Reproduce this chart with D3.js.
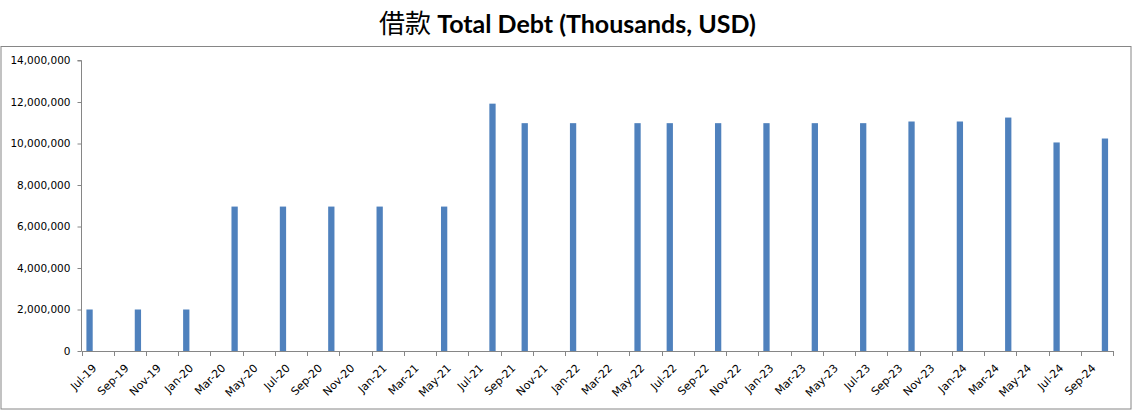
<!DOCTYPE html>
<html>
<head>
<meta charset="utf-8">
<script src="https://cdn.jsdelivr.net/npm/d3@7"></script>
<style>
  html, body { margin: 0; padding: 0; background: #fff; }
  svg { display: block; }
</style>
</head>
<body>
<svg id="chart" width="1135" height="417"></svg>
<script>
// ---- data ----
const barMonths = ["2019-07","2019-10","2020-01","2020-04","2020-07","2020-10","2021-01","2021-05","2021-08","2021-10","2022-01","2022-05","2022-07","2022-10","2023-01","2023-04","2023-07","2023-10","2024-01","2024-04","2024-07","2024-10"];
const debtValues = [2000000,2000000,2000000,6960000,6960000,6960000,6960000,6960000,11920000,10980000,10980000,10980000,10980000,10980000,10980000,10980000,10980000,11060000,11060000,11250000,10050000,10240000];
const xTickLabels = ["Jul-19","Sep-19","Nov-19","Jan-20","Mar-20","May-20","Jul-20","Sep-20","Nov-20","Jan-21","Mar-21","May-21","Jul-21","Sep-21","Nov-21","Jan-22","Mar-22","May-22","Jul-22","Sep-22","Nov-22","Jan-23","Mar-23","May-23","Jul-23","Sep-23","Nov-23","Jan-24","Mar-24","May-24","Jul-24","Sep-24"];
const yTickValues = [0,2000000,4000000,6000000,8000000,10000000,12000000,14000000];
const axisStart = "2019-07";
const axisEnd = "2024-11";
const titleCJK = "借款";
const titleLatin = "Total Debt (Thousands, USD)";

// ---- setup ----
const svg = d3.select("#chart");
const parse = d3.utcParse("%Y-%m");
const fmtKey = d3.utcFormat("%Y-%m");
const allMonths = d3.utcMonth.range(parse(axisStart), parse(axisEnd)).map(fmtKey);

const plotLeft = 81.5, plotRight = 1113, plotTop = 60.5, plotBottom = 351;

const x = d3.scaleBand().domain(allMonths).range([plotLeft, plotRight]).paddingInner(0.61).paddingOuter(0.305);
const xEdge = d3.scaleLinear().domain([0, allMonths.length]).range([plotLeft, plotRight]);
const y = d3.scaleLinear().domain([0, 14000000]).range([plotBottom, plotTop]);

// outer border
svg.append("rect").attr("x", 1).attr("y", 46.5).attr("width", 1130).attr("height", 362.5)
  .attr("fill", "none").attr("stroke", "#868686").attr("stroke-width", 1);

// title
const title = svg.append("text").attr("x", 567.5).attr("y", 33).attr("text-anchor", "middle")
  .attr("fill", "#000");
title.append("tspan").text(titleCJK)
  .style("font-family", "'Noto Sans CJK SC', sans-serif").style("font-size", "26px").style("font-weight", "400");
title.append("tspan").text(" " + titleLatin)
  .style("font-family", "Lato, 'Open Sans', sans-serif").style("font-size", "25px").style("font-weight", "bold");

// y axis
const yAxis = d3.axisLeft(y).tickValues(yTickValues).tickSize(4).tickPadding(7)
  .tickFormat(d3.format(","));
const gy = svg.append("g").attr("transform", `translate(${plotLeft},0)`).call(yAxis);
gy.select(".domain").attr("stroke", "#868686").attr("d", `M-4,${plotTop}H0V${plotBottom}`);
gy.selectAll(".tick line").attr("stroke", "#868686");
gy.selectAll(".tick text").style("font-family", "'DejaVu Sans', sans-serif").style("font-size", "10.5px").attr("fill", "#000");

// bars
svg.append("g").selectAll("rect").data(barMonths).join("rect")
  .attr("x", d => x(d))
  .attr("width", x.bandwidth())
  .attr("y", (d, i) => y(debtValues[i]))
  .attr("height", (d, i) => y(0) - y(debtValues[i]))
  .attr("fill", "#4F81BD");

// x axis
const tickIdx = d3.range(0, allMonths.length + 1, 2);
const gx = svg.append("g").attr("transform", `translate(0,${plotBottom})`);
gx.append("path").attr("d", `M${plotLeft},0.5H${plotRight}`).attr("stroke", "#868686").attr("fill", "none");
gx.selectAll("line.tk").data(tickIdx).join("line").attr("class", "tk")
  .attr("x1", d => Math.round(xEdge(d)) + 0.5).attr("x2", d => Math.round(xEdge(d)) + 0.5)
  .attr("y1", 0).attr("y2", 5).attr("stroke", "#868686");
gx.selectAll("text").data(xTickLabels).join("text")
  .attr("transform", (d, i) => `translate(${xEdge(i * 2) + 13},${15}) rotate(-45)`)
  .attr("text-anchor", "end")
  .attr("dy", "0.35em")
  .style("font-family", "'DejaVu Sans', sans-serif").style("font-size", "11px")
  .attr("fill", "#000")
  .text(d => d);
</script>
</body>
</html>
